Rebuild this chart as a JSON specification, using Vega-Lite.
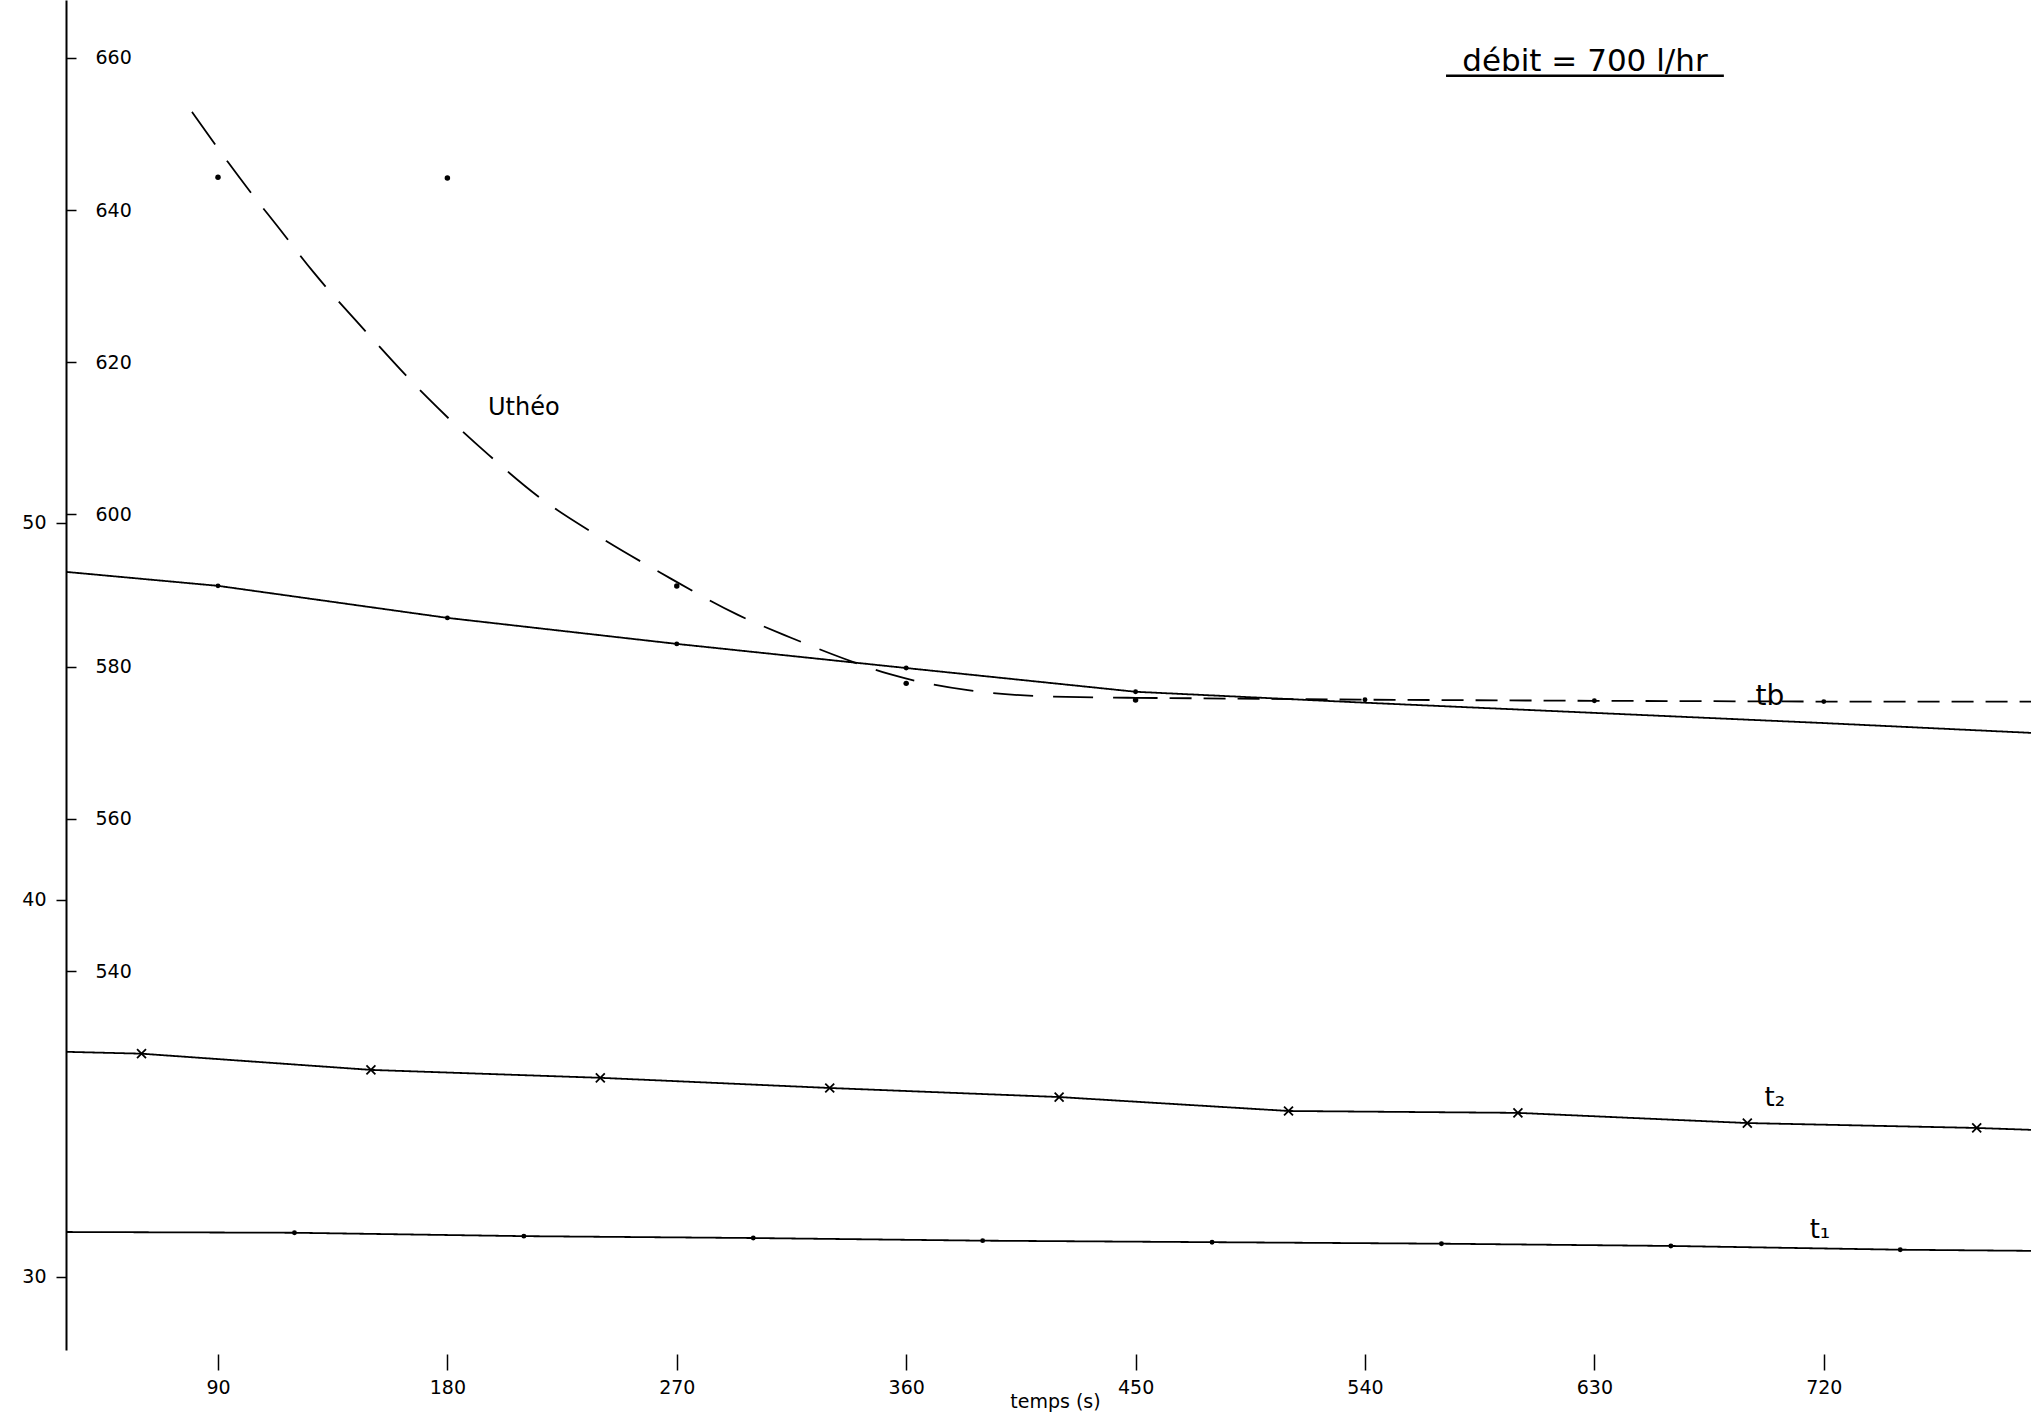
{
  "$schema": "https://vega.github.io/schema/vega-lite/v6.json",
  "width": 1965,
  "height": 1350,
  "autosize": "none",
  "padding": {"left": 66, "top": 0, "right": 0, "bottom": 63},
  "background": "white",
  "config": {
    "view": {"stroke": null},
    "font": "DejaVu Sans"
  },
  "datasets": {
    "outer": [
      {"series": "t1", "t": 30.4, "v": 31.19},
      {"series": "t1", "t": 120, "v": 31.17},
      {"series": "t1", "t": 210, "v": 31.08},
      {"series": "t1", "t": 300, "v": 31.03},
      {"series": "t1", "t": 390, "v": 30.96},
      {"series": "t1", "t": 480, "v": 30.92},
      {"series": "t1", "t": 570, "v": 30.88},
      {"series": "t1", "t": 660, "v": 30.82},
      {"series": "t1", "t": 750, "v": 30.72},
      {"series": "t1", "t": 801.3, "v": 30.69},
      {"series": "t2", "t": 30.4, "v": 35.97},
      {"series": "t2", "t": 60, "v": 35.92},
      {"series": "t2", "t": 150, "v": 35.49},
      {"series": "t2", "t": 240, "v": 35.28},
      {"series": "t2", "t": 330, "v": 35.01},
      {"series": "t2", "t": 420, "v": 34.77},
      {"series": "t2", "t": 510, "v": 34.4},
      {"series": "t2", "t": 600, "v": 34.35},
      {"series": "t2", "t": 690, "v": 34.08},
      {"series": "t2", "t": 780, "v": 33.95},
      {"series": "t2", "t": 801.3, "v": 33.9},
      {"series": "courbe", "t": 30.4, "v": 48.7},
      {"series": "courbe", "t": 90, "v": 48.33},
      {"series": "courbe", "t": 180, "v": 47.48},
      {"series": "courbe", "t": 270, "v": 46.79},
      {"series": "courbe", "t": 360, "v": 46.15},
      {"series": "courbe", "t": 450, "v": 45.52},
      {"series": "courbe", "t": 540, "v": 45.23},
      {"series": "courbe", "t": 630, "v": 44.96},
      {"series": "courbe", "t": 720, "v": 44.69},
      {"series": "courbe", "t": 801.3, "v": 44.43},
      {"series": "tb", "t": 450, "v": 45.36},
      {"series": "tb", "t": 540, "v": 45.31},
      {"series": "tb", "t": 630, "v": 45.28},
      {"series": "tb", "t": 720, "v": 45.26},
      {"series": "tb", "t": 801.3, "v": 45.26}
    ],
    "inner": [
      {"series": "Uthéo", "t": 79.8, "u": 652.9},
      {"series": "Uthéo", "t": 93.9, "u": 646.3},
      {"series": "Uthéo", "t": 102.2, "u": 642.6},
      {"series": "Uthéo", "t": 113.5, "u": 637.8},
      {"series": "Uthéo", "t": 127.3, "u": 631.9},
      {"series": "Uthéo", "t": 148.1, "u": 624.0},
      {"series": "Uthéo", "t": 172.0, "u": 615.4},
      {"series": "Uthéo", "t": 196.3, "u": 607.8},
      {"series": "Uthéo", "t": 216.3, "u": 602.2},
      {"series": "Uthéo", "t": 239.9, "u": 597.0},
      {"series": "Uthéo", "t": 263.8, "u": 592.3},
      {"series": "Uthéo", "t": 294.0, "u": 586.8},
      {"series": "Uthéo", "t": 314.8, "u": 583.8},
      {"series": "Uthéo", "t": 335.2, "u": 581.1},
      {"series": "Uthéo", "t": 353.6, "u": 579.0},
      {"series": "Uthéo", "t": 384.2, "u": 576.9},
      {"series": "Uthéo", "t": 414.8, "u": 576.1},
      {"series": "Uthéo", "t": 450.1, "u": 575.9}
    ],
    "innerpts": [
      {"t": 90, "u": 644.3},
      {"t": 180, "u": 644.2},
      {"t": 270, "u": 590.6},
      {"t": 360, "u": 577.8},
      {"t": 450, "u": 575.6}
    ],
    "labels": [
      {"label": "tb", "t": 698.9, "v": 45.38, "size": 28},
      {"label": "t₂", "t": 700.8, "v": 34.75, "size": 26},
      {"label": "t₁", "t": 718.5, "v": 31.25, "size": 26},
      {"label": "débit = 700 l/hr", "t": 626.3, "v": 62.23, "size": 31}
    ]
  },
  "layer": [
    {
      "layer": [
        {
          "data": {"name": "outer"},
          "mark": {"type": "line", "color": "black", "strokeWidth": 1.8},
          "encoding": {
            "x": {
              "field": "t", "type": "quantitative", "title": "temps (s)",
              "scale": {"domain": [30.37, 801.3], "nice": false, "zero": false},
              "axis": {
                "domain": false,
                "values": [90, 180, 270, 360, 450, 540, 630, 720],
                "tickColor": "black", "tickWidth": 1.5, "tickSize": 16, "offset": 4,
                "labelFontSize": 19, "labelColor": "black", "labelPadding": 8,
                "grid": false,
                "titleFontSize": 19, "titleFontWeight": "normal", "titleColor": "black",
                "titleBaseline": "top", "titleX": 989, "titleY": 38, "titleAlign": "center"
              }
            },
            "y": {
              "field": "v", "type": "quantitative",
              "scale": {"domain": [28.06, 63.87], "nice": false, "zero": false},
              "axis": {
                "orient": "left", "values": [30, 40, 50], "title": null, "grid": false,
                "domain": true, "domainColor": "black", "domainWidth": 2,
                "tickColor": "black", "tickWidth": 1.5, "tickSize": 10,
                "labelFontSize": 19, "labelColor": "black", "labelPadding": 10
              }
            },
            "detail": {"field": "series"},
            "strokeDash": {"field": "series", "type": "nominal", "legend": null,
              "scale": {"domain": ["t1", "t2", "courbe", "tb"], "range": [[1, 0], [1, 0], [1, 0], [22, 12]]}}
          }
        },
        {
          "data": {"name": "outer"},
          "transform": [{"filter": "(datum.series === 'courbe' && datum.t >= 80 && datum.t <= 460) || (datum.series === 'tb' && datum.t >= 500 && datum.t <= 760) || (datum.series === 't1' && datum.t >= 100 && datum.t <= 760)"}],
          "mark": {"type": "point", "filled": true, "color": "black", "size": 24, "opacity": 1},
          "encoding": {
            "x": {"field": "t", "type": "quantitative"},
            "y": {"field": "v", "type": "quantitative"}
          }
        },
        {
          "data": {"name": "outer"},
          "transform": [{"filter": "datum.series === 't2' && datum.t >= 50 && datum.t <= 790"}],
          "mark": {"type": "point", "shape": "M -1 -1 L 1 1 M 1 -1 L -1 1", "filled": false, "color": "black", "strokeWidth": 1.8, "size": 80, "opacity": 1},
          "encoding": {
            "x": {"field": "t", "type": "quantitative"},
            "y": {"field": "v", "type": "quantitative"}
          }
        },
        {
          "data": {"name": "labels"},
          "mark": {"type": "text", "color": "black", "align": "center", "baseline": "middle", "font": "DejaVu Sans"},
          "encoding": {
            "x": {"field": "t", "type": "quantitative"},
            "y": {"field": "v", "type": "quantitative"},
            "text": {"field": "label"},
            "size": {"field": "size", "type": "quantitative", "scale": null, "legend": null}
          }
        },
        {
          "data": {"values": [{"t": 571.8, "t2": 680.8, "v": 61.86}]},
          "mark": {"type": "rule", "color": "black", "strokeWidth": 2.5},
          "encoding": {
            "x": {"field": "t", "type": "quantitative"},
            "x2": {"field": "t2"},
            "y": {"field": "v", "type": "quantitative"}
          }
        }
      ]
    },
    {
      "layer": [
        {
          "data": {"name": "inner"},
          "mark": {"type": "line", "color": "black", "strokeWidth": 1.8, "strokeDash": [40, 20], "interpolate": "monotone"},
          "encoding": {
            "x": {"field": "t", "type": "quantitative"},
            "y": {
              "field": "u", "type": "quantitative",
              "scale": {"domain": [490.2, 667.6], "nice": false, "zero": false},
              "axis": {
                "orient": "right", "offset": -1965, "values": [540, 560, 580, 600, 620, 640, 660],
                "title": null, "grid": false, "domain": false,
                "tickColor": "black", "tickWidth": 1.5, "tickSize": 10,
                "labelFontSize": 19, "labelColor": "black", "labelPadding": 19, "labelAlign": "left"
              }
            }
          }
        },
        {
          "data": {"name": "innerpts"},
          "mark": {"type": "point", "filled": true, "color": "black", "size": 30, "opacity": 1},
          "encoding": {
            "x": {"field": "t", "type": "quantitative"},
            "y": {"field": "u", "type": "quantitative"}
          }
        },
        {
          "data": {"values": [{"label": "Uthéo", "t": 210, "u": 614}]},
          "mark": {"type": "text", "color": "black", "align": "center", "baseline": "middle", "fontSize": 24, "font": "DejaVu Sans"},
          "encoding": {
            "x": {"field": "t", "type": "quantitative"},
            "y": {"field": "u", "type": "quantitative"},
            "text": {"field": "label"}
          }
        }
      ]
    }
  ],
  "resolve": {"scale": {"y": "independent"}, "axis": {"y": "independent"}}
}
